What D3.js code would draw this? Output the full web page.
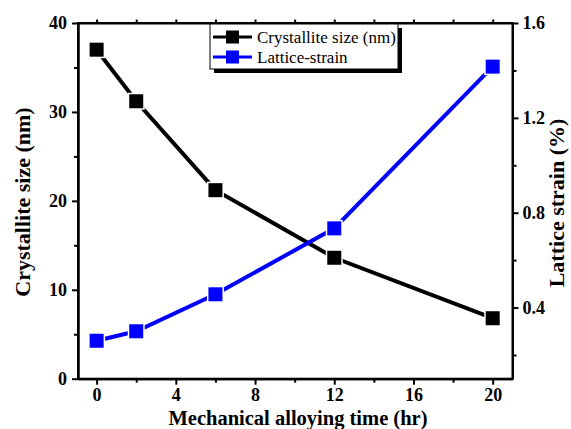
<!DOCTYPE html>
<html>
<head>
<meta charset="utf-8">
<script src="https://cdn.jsdelivr.net/npm/d3@7"></script>
<style>
  body { margin: 0; background: #fff; }
  svg, svg text { font-family: "Liberation Serif", "Times New Roman", serif; }
  .axis path, .axis line { stroke: #000; stroke-width: 2; }
  .axis text { font-family: "Liberation Serif", "Times New Roman", serif; font-size: 18px; font-weight: bold; fill: #000; }
</style>
</head>
<body>
<div id="chart"></div>
<script>
// data
var time_hr = [0, 2, 6, 12, 20];
var crystallite_nm = [37.0, 31.2, 21.2, 13.6, 6.8];
var lattice_strain = [0.26, 0.30, 0.456, 0.734, 1.416];

var x_major = [0, 4, 8, 12, 16, 20];
var x_minor = [2, 6, 10, 14, 18];
var yl_major = [0, 10, 20, 30, 40];
var yl_minor = [5, 15, 25, 35];
var yr_major = [0.4, 0.8, 1.2, 1.6];
var yr_minor = [0.2, 0.6, 1.0, 1.4];

var series_names = ["Crystallite size (nm)", "Lattice-strain"];

var vars = {};
vars.width = 571;
vars.height = 429;
vars.plot = { left: 78, right: 512.5, top: 23, bottom: 378.7 };

var svg = d3.select("#chart").append("svg")
  .attr("width", vars.width)
  .attr("height", vars.height);

var x = d3.scaleLinear().domain([-0.94, 21]).range([vars.plot.left, vars.plot.right]);
var yl = d3.scaleLinear().domain([0, 40]).range([vars.plot.bottom, vars.plot.top]);
var yr = d3.scaleLinear().domain([0.1, 1.6]).range([vars.plot.bottom, vars.plot.top]);

function fmt(d) { return String(d); }

// bottom axis
svg.append("g").attr("class", "axis")
  .attr("transform", "translate(0," + vars.plot.bottom + ")")
  .call(d3.axisBottom(x).tickValues(x_major).tickSize(6).tickSizeOuter(0).tickPadding(4).tickFormat(fmt));
svg.append("g").attr("class", "axis minor")
  .attr("transform", "translate(0," + vars.plot.bottom + ")")
  .call(d3.axisBottom(x).tickValues(x_minor).tickSize(4).tickSizeOuter(0).tickFormat(""));

// top axis (ticks only)
svg.append("g").attr("class", "axis")
  .attr("transform", "translate(0," + vars.plot.top + ")")
  .call(d3.axisTop(x).tickValues(x_major.concat(x_minor)).tickSize(3.5).tickSizeOuter(0).tickFormat(""));

// left axis
svg.append("g").attr("class", "axis")
  .attr("transform", "translate(" + vars.plot.left + ",0)")
  .call(d3.axisLeft(yl).tickValues(yl_major).tickSize(6).tickSizeOuter(0).tickPadding(5).tickFormat(fmt));
svg.append("g").attr("class", "axis")
  .attr("transform", "translate(" + vars.plot.left + ",0)")
  .call(d3.axisLeft(yl).tickValues(yl_minor).tickSize(4).tickSizeOuter(0).tickFormat(""));

// right axis
svg.append("g").attr("class", "axis")
  .attr("transform", "translate(" + vars.plot.right + ",0)")
  .call(d3.axisRight(yr).tickValues(yr_major).tickSize(6).tickSizeOuter(0).tickPadding(4).tickFormat(d3.format(".1f")));
svg.append("g").attr("class", "axis")
  .attr("transform", "translate(" + vars.plot.right + ",0)")
  .call(d3.axisRight(yr).tickValues(yr_minor).tickSize(4).tickSizeOuter(0).tickFormat(""));

svg.selectAll(".axis").attr("font-family", null).attr("font-size", null);

// lines
var pts_c = time_hr.map(function(t, i) { return { x: t, y: crystallite_nm[i] }; });
var pts_s = time_hr.map(function(t, i) { return { x: t, y: lattice_strain[i] }; });

function draw_series(data, yscale, color) {
  var line = d3.line()
    .x(function(d) { return x(d.x); })
    .y(function(d) { return yscale(d.y); });
  svg.append("path")
    .datum(data)
    .attr("d", line)
    .attr("fill", "none")
    .attr("stroke", color)
    .attr("stroke-width", 4);
}

draw_series(pts_c, yl, "#000");
draw_series(pts_s, yr, "#0000ff");

function draw_markers(data, yscale, color) {
  svg.append("g").selectAll("rect")
    .data(data)
    .enter().append("rect")
    .attr("x", function(d) { return x(d.x) - 7; })
    .attr("y", function(d) { return yscale(d.y) - 7; })
    .attr("width", 14)
    .attr("height", 14)
    .attr("fill", color)
    .attr("stroke", "#fff")
    .attr("stroke-width", 3)
    .attr("paint-order", "stroke");
}

draw_markers(pts_c, yl, "#000");
draw_markers(pts_s, yr, "#0000ff");

// frame lines over marks
svg.append("rect")
  .attr("x", vars.plot.left).attr("y", vars.plot.top)
  .attr("width", vars.plot.right - vars.plot.left)
  .attr("height", vars.plot.bottom - vars.plot.top)
  .attr("fill", "none").attr("stroke", "#000").attr("stroke-width", 2);

// legend
var lg = svg.append("g").attr("transform", "translate(210,24)");
lg.append("rect").attr("x", 4).attr("y", 4).attr("width", 188).attr("height", 45).attr("fill", "#000");
lg.append("rect").attr("x", 0).attr("y", 0).attr("width", 188).attr("height", 45)
  .attr("fill", "#fff").attr("stroke", "#000").attr("stroke-width", 1);
var lg_colors = ["#000", "#0000ff"];
series_names.forEach(function(name, i) {
  var cy = 13 + i * 20;
  lg.append("line").attr("x1", 3).attr("x2", 42).attr("y1", cy).attr("y2", cy)
    .attr("stroke", lg_colors[i]).attr("stroke-width", 3);
  lg.append("rect").attr("x", 16).attr("y", cy - 6.5).attr("width", 13).attr("height", 13)
    .attr("fill", lg_colors[i]);
  lg.append("text").attr("x", 47).attr("y", cy + 5.5)
    .attr("font-size", "17px").text(name);
});

// axis titles
svg.append("text")
  .attr("x", 298)
  .attr("y", 425)
  .attr("text-anchor", "middle")
  .attr("font-size", "20.5px").attr("font-weight", "bold")
  .text("Mechanical alloying time (hr)");

svg.append("text")
  .attr("transform", "translate(30,202) rotate(-90)")
  .attr("text-anchor", "middle")
  .attr("font-size", "22px").attr("font-weight", "bold")
  .text("Crystallite size (nm)");

svg.append("text")
  .attr("transform", "translate(564,203) rotate(-90)")
  .attr("text-anchor", "middle")
  .attr("font-size", "22px").attr("font-weight", "bold")
  .text("Lattice strain (%)");
</script>
</body>
</html>
